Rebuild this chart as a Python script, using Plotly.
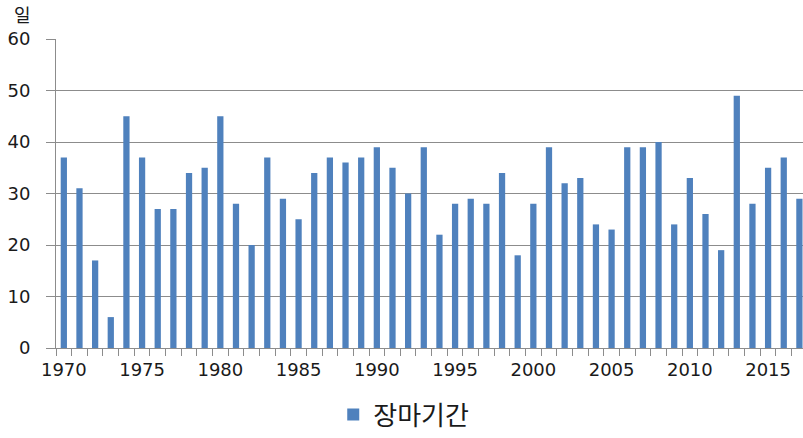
import plotly.graph_objects as go

years = list(range(1970, 2018))
days = [37, 31, 17, 6, 45, 37, 27, 27, 34, 35,
        45, 28, 20, 37, 29, 25, 34, 37, 36, 37,
        39, 35, 30, 39, 22, 28, 29, 28, 34, 18,
        28, 39, 32, 33, 24, 23, 39, 39, 40, 24,
        33, 26, 19, 49, 28, 35, 37, 29]
series_name = "장마기간"
y_unit = "일"
x_ticks = [1970, 1975, 1980, 1985, 1990, 1995, 2000, 2005, 2010, 2015]
y_ticks = [0, 10, 20, 30, 40, 50, 60]

FONT = "DejaVu Sans, Noto Sans CJK KR, sans-serif"
GRID = "#8c8c8c"

fig = go.Figure()
fig.add_trace(go.Bar(x=years, y=days, name=series_name,
                     marker=dict(color="#4f81bd", line=dict(width=0)),
                     width=0.4, showlegend=True))

fig.update_layout(
    width=803, height=438,
    margin=dict(l=56, r=0, t=39, b=90, autoexpand=False),
    paper_bgcolor="white", plot_bgcolor="white",
    font=dict(family=FONT, size=18, color="#1a1a1a"),
    showlegend=True,
    legend=dict(orientation="h", xref="container", yref="container",
                x=0.415, xanchor="left", y=0.0, yanchor="bottom",
                font=dict(family="Noto Sans CJK KR, sans-serif", size=26),
                itemwidth=30),
    xaxis=dict(range=[1969.5, 2017.23], tickmode="array", tickvals=x_ticks,
               ticks="", showgrid=False, showline=True, linecolor=GRID,
               linewidth=1, zeroline=False, automargin=False,
               tickfont=dict(size=18), ticklabelstandoff=5,
               minor=dict(tick0=1969.5, dtick=1, ticks="outside", ticklen=7,
                          tickcolor=GRID, tickwidth=1, showgrid=False)),
    yaxis=dict(range=[0, 60], tickmode="array", tickvals=y_ticks,
               ticks="outside", ticklen=9, tickcolor=GRID, tickwidth=1,
               showgrid=True, gridcolor=GRID, gridwidth=1,
               showline=True, linecolor=GRID, linewidth=1, zeroline=False,
               automargin=False,
               tickfont=dict(size=18), ticklabelstandoff=12),
    annotations=[dict(text=y_unit, xref="paper", yref="paper",
                      x=0, y=1, xshift=-34, yshift=10, showarrow=False,
                      xanchor="center", yanchor="bottom",
                      font=dict(family="Noto Sans CJK KR, sans-serif", size=18))],
)

# remove the default page margin / scrollbars so the figure fills the window
fig.write_html("out.html",
               config={"displayModeBar": False},
               post_script="document.body.style.margin='0';"
                           "document.body.style.overflow='hidden';")
